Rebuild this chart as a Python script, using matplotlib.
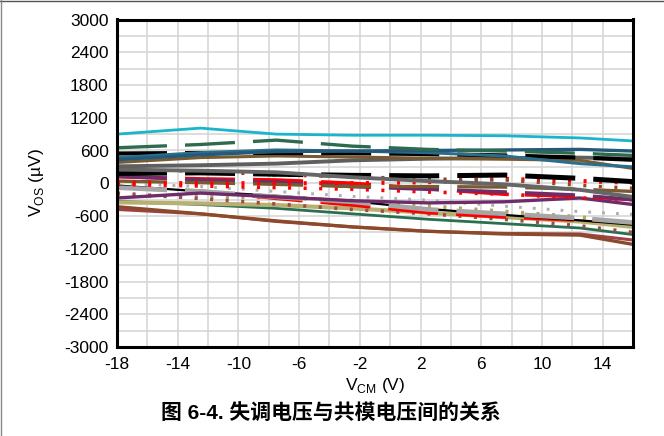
import matplotlib
matplotlib.use("Agg")
import matplotlib.pyplot as plt
from matplotlib.lines import Line2D

plt.rcParams['font.family'] = ['Liberation Sans', 'Noto Sans CJK SC', 'DejaVu Sans']
plt.rcParams['lines.scale_dashes'] = False
plt.rcParams['axes.unicode_minus'] = False
plt.rcParams['mathtext.fontset'] = 'custom'
plt.rcParams['mathtext.rm'] = 'Liberation Sans'

# ---- data ----
vcm = [-18, -12.5, -7.5, -2.5, 2.5, 7.5, 12.5, 16]

cyan_solid = [900, 1010, 900, 880, 880, 870, 830, 775]
green_dash = [650, 710, 790, 680, 620, 590, 550, 510]
blue_solid = [430, 520, 580, 590, 600, 610, 620, 590]
teal_solid = [470, 560, 610, 590, 560, 500, 360, 300]
black_dash_hi = [545, 555, 555, 550, 535, 510, 470, 430]
brown_solid = [380, 470, 500, 480, 460, 440, 420, 270]
gray_rise = [310, 330, 360, 420, 450, 460, 470, 450]
gray_fall = [250, 230, 200, 110, 40, -20, -120, -250]
black_dash_lo = [180, 190, 165, 145, 135, 150, 90, 30]
brown_sqdot = [250, 220, 150, 120, 80, 60, -40, -90]
red_dot_hi = [10, 0, 0, 0, 20, 80, 40, 10]
brown_dash = [40, 10, -20, -60, -60, -70, -110, -150]
purple_dash = [130, 60, 20, -60, -110, -160, -220, -300]
red_dash_hi = [120, 80, 60, 0, -100, -200, -240, -300]
red_dot_lo = [-20, -50, -80, -110, -160, -200, -270, -300]
purple_solid = [-270, -180, -250, -320, -360, -340, -270, -390]
ltgray_dot = [0, -60, -150, -240, -310, -420, -520, -570]
ltgray_dash = [-80, -150, -250, -340, -480, -560, -640, -720]
black_solid = [-40, -150, -230, -330, -470, -580, -680, -760]
red_dash_lo = [-80, -140, -280, -400, -540, -620, -680, -720]
darkred_sqdot = [-180, -280, -380, -480, -560, -660, -780, -900]
khaki_sqdot = [-230, -240, -260, -320, -420, -520, -620, -760]
khaki_solid = [-350, -370, -400, -460, -540, -620, -700, -800]
green_solid = [-330, -390, -460, -560, -660, -740, -820, -940]
sienna_solid = [-430, -560, -690, -800, -880, -930, -950, -1120]
darkred_solid = [-480, -560, -700, -800, -880, -920, -930, -1040]

x_ticks = [-18, -14, -10, -6, -2, 2, 6, 10, 14]
y_ticks = [-3000, -2400, -1800, -1200, -600, 0, 600, 1200, 1800, 2400, 3000]

LONG = (0, (36, 13))
DOT = (0, (2.2, 9))
SDOT = (0, (2.0, 8))

series = [
    (darkred_solid, '#A0404A', '-', 2.2),
    (sienna_solid, '#8C4A2A', '-', 2.4),
    (green_solid, '#2A7050', '-', 2.0),
    (khaki_solid, '#B8B070', '-', 3.0),
    (khaki_sqdot, '#B0A860', DOT, 3.0),
    (darkred_sqdot, '#A04A4A', DOT, 2.6),
    (red_dash_lo, '#FF0000', LONG, 2.4),
    (black_solid, '#000000', '-', 1.6),
    (ltgray_dash, '#A6A6A6', LONG, 3.4),
    (ltgray_dot, '#B0B0B0', SDOT, 2.2),
    (purple_solid, '#6E2C6B', '-', 2.4),
    (red_dot_lo, '#FF0000', DOT, 2.6),
    (red_dash_hi, '#FF0000', LONG, 2.6),
    (purple_dash, '#6E2C6B', LONG, 2.6),
    (brown_dash, '#7B5A30', LONG, 2.4),
    (red_dot_hi, '#FF0000', DOT, 3.0),
    (brown_sqdot, '#8B4A2B', DOT, 2.4),
    (black_dash_lo, '#000000', LONG, 3.6),
    (gray_fall, '#666666', '-', 2.8),
    (gray_rise, '#5F5F5F', '-', 2.8),
    (brown_solid, '#7B5A30', '-', 2.2),
    (black_dash_hi, '#000000', LONG, 3.0),
    (teal_solid, '#2A6E8C', '-', 2.2),
    (blue_solid, '#24597A', '-', 2.4),
    (green_dash, '#2E6B4E', LONG, 2.4),
    (cyan_solid, '#19B5CB', '-', 2.0),
]

fig = plt.figure(figsize=(6.64, 4.36), dpi=100)
ax = fig.add_axes([117/664, 1-347/436, (633-117)/664, (347-19.5)/436])

for vals, col, ls, lw in series:
    ax.plot(vcm, vals, color=col, linestyle=ls, linewidth=lw,
            dash_capstyle='butt', solid_capstyle='butt', solid_joinstyle='round')

ax.set_xlim(-18, 16)
ax.set_ylim(-3000, 3000)
ax.set_xticks(x_ticks)
ax.set_yticks(y_ticks)
ax.set_xticks(list(range(-18, 17, 2)), minor=True)
ax.set_yticks(list(range(-3000, 3001, 300)), minor=True)
ax.grid(True, which='both', color='#D3D3D3', linewidth=1.1)
ax.set_axisbelow(True)
ax.tick_params(which='both', length=0)
ax.tick_params(axis='x', labelsize=12.5, pad=7)
ax.tick_params(axis='y', labelsize=12.5, pad=6)
for s in ax.spines.values():
    s.set_linewidth(2.2)
    s.set_color('black')

fig.text(37/664, 1-183/436, r'V$_\mathregular{OS}$ (µV)', rotation=90,
         ha='center', va='center', fontsize=12.5)
fig.text(375/664, 1-385/436, r'V$_\mathregular{CM}$ (V)',
         ha='center', va='center', fontsize=12.5)
fig.text(331/664, 1-413/436, '图 6-4. 失调电压与共模电压间的关系',
         ha='center', va='center', fontsize=15, fontweight='bold',
         family=['Liberation Sans', 'Noto Sans CJK SC'])

fig.add_artist(Line2D([0, 1], [1-1.5/436, 1-1.5/436], color='#555555', linewidth=1.0,
                      transform=fig.transFigure))
fig.add_artist(Line2D([0.8/664, 0.8/664], [0, 1], color='#888888', linewidth=1.0,
                      transform=fig.transFigure))

fig.savefig('out.png', dpi=100)
